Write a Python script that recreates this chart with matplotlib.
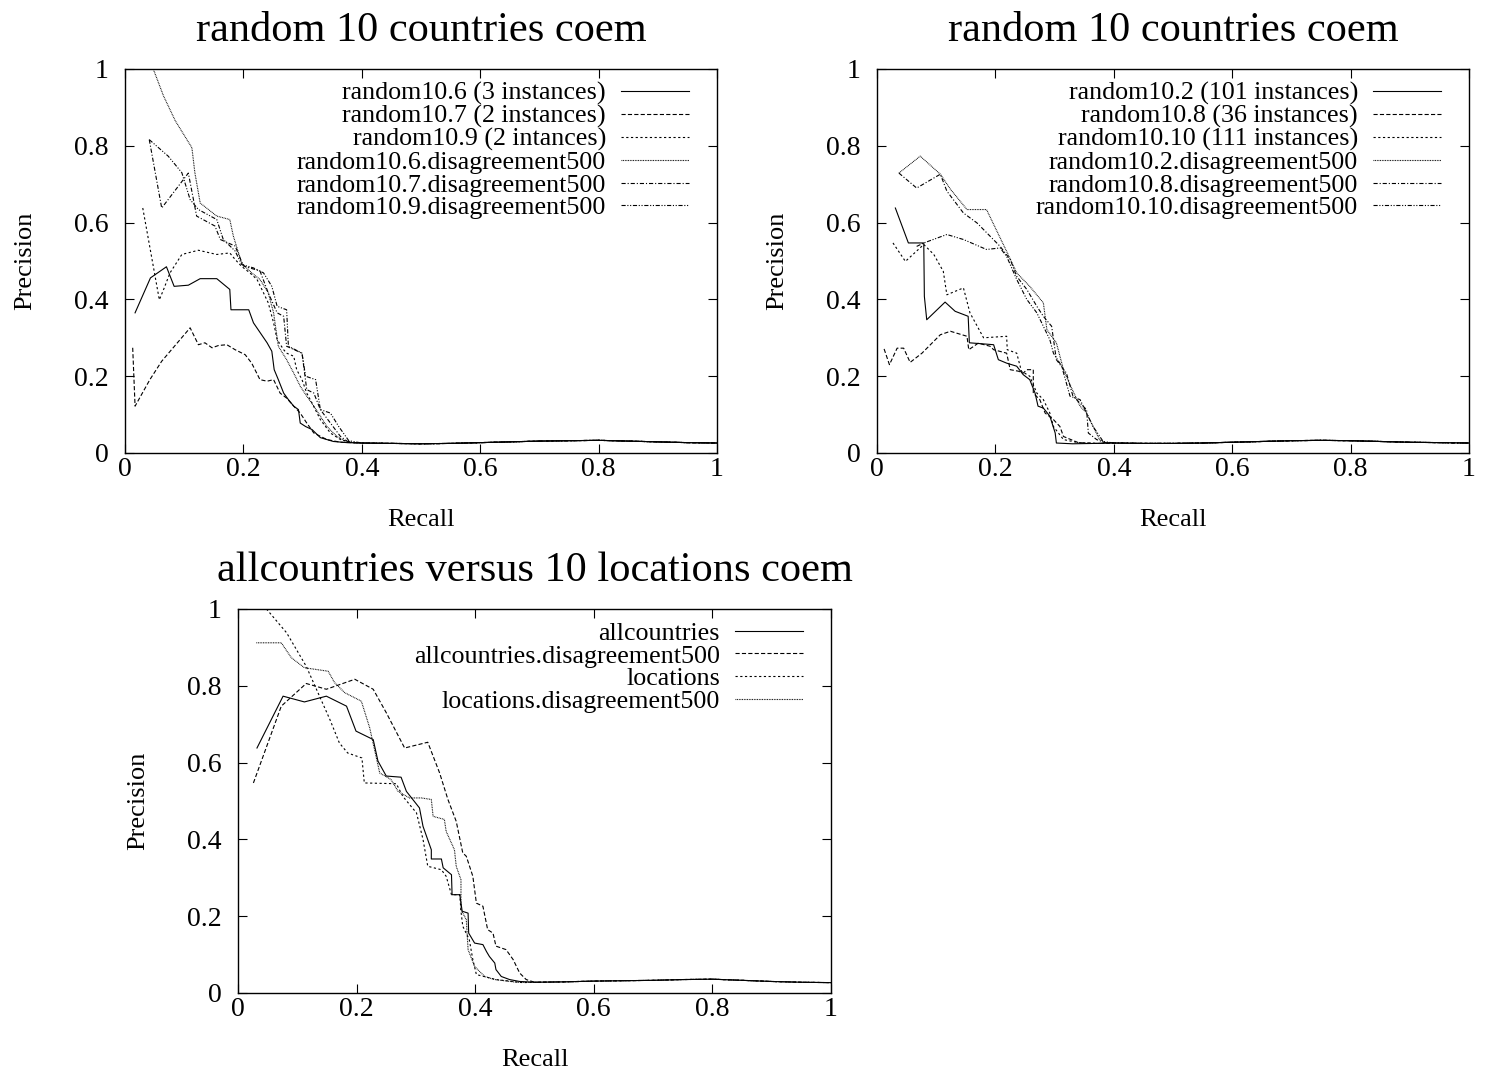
import matplotlib
matplotlib.use("Agg")
import matplotlib.pyplot as plt
import numpy as np

plt.rcParams['font.family'] = ['Liberation Serif', 'DejaVu Serif']
plt.rcParams['lines.scale_dashes'] = False

# ---------------- data: panel 1 ----------------
p1_title = "random 10 countries coem"
p1_labels = ["random10.6 (3 instances)", "random10.7 (2 instances)", "random10.9 (2 intances)",
             "random10.6.disagreement500", "random10.7.disagreement500", "random10.9.disagreement500"]
p1_tail_x = [0.40, 0.45, 0.50, 0.55, 0.60, 0.65, 0.70, 0.75, 0.80, 0.85, 0.90, 0.95, 1.00]
p1_tail_y = [0.026, 0.025, 0.024, 0.025, 0.027, 0.029, 0.031, 0.032, 0.033, 0.031, 0.029, 0.027, 0.026]

p1_s1_x = [0.017, 0.043, 0.070, 0.083, 0.107, 0.127, 0.155, 0.177, 0.179, 0.209, 0.217, 0.240, 0.248, 0.252,
           0.259, 0.268, 0.276, 0.285, 0.293, 0.296, 0.305, 0.316, 0.330, 0.352, 0.375]
p1_s1_y = [0.365, 0.456, 0.485, 0.434, 0.437, 0.454, 0.454, 0.426, 0.373, 0.373, 0.339, 0.287, 0.265, 0.217,
           0.191, 0.156, 0.139, 0.122, 0.113, 0.078, 0.069, 0.061, 0.040, 0.030, 0.027]
p1_s2_x = [0.013, 0.017, 0.042, 0.062, 0.110, 0.124, 0.135, 0.147, 0.158, 0.172, 0.186, 0.203, 0.214, 0.228,
           0.240, 0.251, 0.262, 0.273, 0.285, 0.296, 0.307, 0.319, 0.341, 0.364]
p1_s2_y = [0.274, 0.122, 0.191, 0.239, 0.326, 0.282, 0.287, 0.274, 0.280, 0.282, 0.269, 0.256, 0.234, 0.191,
           0.187, 0.191, 0.156, 0.143, 0.122, 0.104, 0.078, 0.052, 0.035, 0.028]
p1_s3_x = [0.030, 0.058, 0.065, 0.076, 0.096, 0.124, 0.155, 0.177, 0.186, 0.197, 0.211, 0.223, 0.234, 0.242,
           0.251, 0.257, 0.268, 0.273, 0.285, 0.290, 0.299, 0.307, 0.316, 0.330, 0.347, 0.364, 0.386]
p1_s3_y = [0.638, 0.399, 0.425, 0.469, 0.517, 0.528, 0.517, 0.521, 0.504, 0.486, 0.469, 0.452, 0.417, 0.391,
           0.339, 0.295, 0.269, 0.260, 0.252, 0.217, 0.191, 0.156, 0.130, 0.087, 0.052, 0.035, 0.027]
p1_s4_x = [0.048, 0.065, 0.085, 0.113, 0.118, 0.127, 0.155, 0.177, 0.183, 0.197, 0.214, 0.228, 0.242, 0.251,
           0.259, 0.273, 0.285, 0.296, 0.307, 0.319, 0.330, 0.341, 0.358, 0.375]
p1_s4_y = [0.999, 0.930, 0.865, 0.795, 0.730, 0.651, 0.617, 0.608, 0.565, 0.495, 0.469, 0.452, 0.417, 0.365,
           0.278, 0.243, 0.208, 0.174, 0.148, 0.122, 0.096, 0.069, 0.043, 0.028]
p1_s5_x = [0.041, 0.062, 0.107, 0.121, 0.152, 0.161, 0.186, 0.200, 0.228, 0.242, 0.257, 0.268, 0.273, 0.299,
           0.307, 0.319, 0.330, 0.347, 0.364, 0.378]
p1_s5_y = [0.816, 0.638, 0.729, 0.617, 0.591, 0.556, 0.539, 0.487, 0.474, 0.417, 0.365, 0.356, 0.278, 0.260,
           0.165, 0.156, 0.113, 0.078, 0.043, 0.028]
p1_s6_x = [0.041, 0.073, 0.096, 0.110, 0.124, 0.155, 0.166, 0.186, 0.197, 0.217, 0.234, 0.248, 0.257, 0.273,
           0.276, 0.299, 0.305, 0.322, 0.330, 0.347, 0.361, 0.378]
p1_s6_y = [0.816, 0.773, 0.730, 0.660, 0.634, 0.608, 0.556, 0.526, 0.491, 0.482, 0.469, 0.434, 0.382, 0.373,
           0.278, 0.260, 0.200, 0.191, 0.113, 0.104, 0.069, 0.032]

# ---------------- data: panel 2 ----------------
p2_title = "random 10 countries coem"
p2_labels = ["random10.2 (101 instances)", "random10.8 (36 instances)", "random10.10 (111 instances)",
             "random10.2.disagreement500", "random10.8.disagreement500", "random10.10.disagreement500"]
p2_tail_x = [0.40, 0.45, 0.50, 0.55, 0.60, 0.65, 0.70, 0.75, 0.80, 0.85, 0.90, 0.95, 1.00]
p2_tail_y = [0.026, 0.025, 0.025, 0.026, 0.028, 0.030, 0.032, 0.033, 0.032, 0.030, 0.028, 0.027, 0.026]

p2_s1_x = [0.031, 0.053, 0.079, 0.080, 0.084, 0.115, 0.132, 0.154, 0.156, 0.197, 0.205, 0.219, 0.236, 0.247,
           0.258, 0.267, 0.272, 0.281, 0.292, 0.301, 0.303, 0.330, 0.370]
p2_s1_y = [0.638, 0.547, 0.547, 0.408, 0.347, 0.393, 0.369, 0.356, 0.287, 0.282, 0.243, 0.234, 0.226, 0.204,
           0.191, 0.156, 0.122, 0.117, 0.096, 0.052, 0.026, 0.024, 0.025]
p2_s2_x = [0.012, 0.021, 0.034, 0.045, 0.056, 0.076, 0.107, 0.124, 0.152, 0.155, 0.171, 0.191, 0.197, 0.219,
           0.225, 0.239, 0.247, 0.253, 0.264, 0.264, 0.275, 0.284, 0.298, 0.309, 0.315, 0.340, 0.370]
p2_s2_y = [0.271, 0.230, 0.273, 0.273, 0.236, 0.260, 0.308, 0.317, 0.304, 0.269, 0.286, 0.278, 0.269, 0.260,
           0.217, 0.213, 0.208, 0.217, 0.217, 0.156, 0.139, 0.104, 0.087, 0.069, 0.043, 0.027, 0.025]
p2_s3_x = [0.027, 0.048, 0.079, 0.096, 0.112, 0.118, 0.146, 0.157, 0.180, 0.219, 0.220, 0.236, 0.244, 0.258,
           0.270, 0.281, 0.292, 0.298, 0.315, 0.340, 0.370]
p2_s3_y = [0.547, 0.499, 0.543, 0.517, 0.473, 0.412, 0.430, 0.365, 0.300, 0.304, 0.269, 0.260, 0.213, 0.200,
           0.156, 0.139, 0.104, 0.069, 0.035, 0.027, 0.025]
p2_s4_x = [0.037, 0.073, 0.107, 0.124, 0.152, 0.185, 0.219, 0.236, 0.258, 0.281, 0.287, 0.303, 0.315, 0.326,
           0.343, 0.354, 0.365, 0.376, 0.385]
p2_s4_y = [0.729, 0.773, 0.726, 0.687, 0.634, 0.634, 0.525, 0.469, 0.434, 0.391, 0.321, 0.287, 0.217, 0.178,
           0.122, 0.104, 0.069, 0.035, 0.027]
p2_s5_x = [0.037, 0.067, 0.107, 0.118, 0.146, 0.169, 0.208, 0.225, 0.236, 0.253, 0.270, 0.281, 0.295, 0.303,
           0.320, 0.331, 0.354, 0.357, 0.371, 0.385]
p2_s5_y = [0.729, 0.690, 0.726, 0.682, 0.625, 0.599, 0.538, 0.504, 0.460, 0.426, 0.382, 0.356, 0.330, 0.243,
           0.208, 0.148, 0.113, 0.052, 0.035, 0.027]
p2_s6_x = [0.067, 0.079, 0.118, 0.146, 0.185, 0.208, 0.219, 0.236, 0.253, 0.270, 0.281, 0.292, 0.298, 0.312,
           0.326, 0.343, 0.354, 0.365, 0.382]
p2_s6_y = [0.538, 0.547, 0.569, 0.556, 0.530, 0.534, 0.512, 0.452, 0.400, 0.365, 0.330, 0.295, 0.260, 0.226,
           0.148, 0.139, 0.104, 0.069, 0.030]

# ---------------- data: panel 3 ----------------
p3_title = "allcountries versus 10 locations coem"
p3_labels = ["allcountries", "allcountries.disagreement500", "locations", "locations.disagreement500"]
p3_tail_x = [0.50, 0.55, 0.60, 0.65, 0.70, 0.75, 0.80, 0.85, 0.90, 0.95, 1.00]
p3_tail_y = [0.028, 0.029, 0.031, 0.032, 0.033, 0.035, 0.036, 0.033, 0.030, 0.028, 0.027]

p3_s1_x = [0.032, 0.076, 0.112, 0.149, 0.183, 0.199, 0.228, 0.236, 0.250, 0.275, 0.284, 0.306, 0.312, 0.326,
           0.326, 0.343, 0.346, 0.360, 0.361, 0.374, 0.378, 0.388, 0.389, 0.399, 0.413, 0.419, 0.424, 0.433,
           0.435, 0.444, 0.458, 0.475]
p3_s1_y = [0.638, 0.773, 0.758, 0.773, 0.747, 0.682, 0.660, 0.604, 0.565, 0.562, 0.525, 0.482, 0.434, 0.373,
           0.349, 0.349, 0.326, 0.308, 0.256, 0.256, 0.213, 0.208, 0.156, 0.130, 0.126, 0.108, 0.095, 0.078,
           0.061, 0.043, 0.035, 0.030]
p3_s2_x = [0.026, 0.073, 0.115, 0.149, 0.197, 0.228, 0.250, 0.281, 0.320, 0.340, 0.354, 0.368, 0.379, 0.385,
           0.396, 0.402, 0.413, 0.421, 0.430, 0.435, 0.452, 0.464, 0.475, 0.486]
p3_s2_y = [0.547, 0.747, 0.806, 0.791, 0.817, 0.791, 0.730, 0.638, 0.653, 0.573, 0.504, 0.447, 0.365, 0.356,
           0.304, 0.234, 0.226, 0.165, 0.156, 0.122, 0.113, 0.087, 0.052, 0.035]
p3_s3_x = [0.048, 0.082, 0.115, 0.155, 0.171, 0.185, 0.209, 0.213, 0.267, 0.278, 0.301, 0.312, 0.320, 0.343,
           0.351, 0.360, 0.374, 0.376, 0.379, 0.390, 0.396, 0.402, 0.435, 0.480]
p3_s3_y = [1.000, 0.938, 0.851, 0.712, 0.651, 0.625, 0.612, 0.547, 0.545, 0.512, 0.469, 0.400, 0.330, 0.321,
           0.304, 0.256, 0.256, 0.213, 0.174, 0.139, 0.087, 0.048, 0.035, 0.027]
p3_s4_x = [0.031, 0.073, 0.090, 0.112, 0.152, 0.163, 0.180, 0.208, 0.222, 0.239, 0.258, 0.270, 0.289, 0.309,
           0.326, 0.329, 0.348, 0.351, 0.365, 0.368, 0.376, 0.376, 0.385, 0.388, 0.399, 0.416, 0.433, 0.470]
p3_s4_y = [0.912, 0.912, 0.873, 0.847, 0.838, 0.808, 0.782, 0.760, 0.691, 0.573, 0.556, 0.525, 0.508, 0.508,
           0.504, 0.460, 0.452, 0.421, 0.373, 0.330, 0.295, 0.217, 0.191, 0.113, 0.069, 0.043, 0.035, 0.028]

x_ticks = [0, 0.2, 0.4, 0.6, 0.8, 1]
y_ticks = [0, 0.2, 0.4, 0.6, 0.8, 1]
tick_labels = ["0", "0.2", "0.4", "0.6", "0.8", "1"]

# ---------------- styles ----------------
styles = [
    dict(linestyle='-'),
    dict(linestyle=(0, (3.0, 1.6))),
    dict(linestyle=(0, (1.6, 1.8))),
    dict(linestyle=(0, (0.6, 0.6))),
    dict(linestyle=(0, (3.0, 1.4, 0.8, 1.4))),
    dict(linestyle=(0, (3.0, 1.2, 0.8, 1.2, 0.8, 1.2))),
]

W, H = 1492, 1070
fig = plt.figure(figsize=(W / 100, H / 100), dpi=100)

def axrect(left, top, right, bottom):
    return [left / W, 1 - bottom / H, (right - left) / W, (bottom - top) / H]

TICK_FS = 20
LEG_FS = 18.7
LABEL_FS = 19
TITLE_FS = 30.5


def make_panel(rect, title, labels, xs, ys, tail_x, tail_y):
    ax = fig.add_axes(rect)
    for i, (x, y) in enumerate(zip(xs, ys)):
        xx = list(x) + [t for t in tail_x if t > x[-1]]
        yy = list(y) + [ty for t, ty in zip(tail_x, tail_y) if t > x[-1]]
        ax.plot(xx, yy, color='black', lw=0.8, label=labels[i], **styles[i])
    ax.set_xlim(0, 1)
    ax.set_ylim(0, 1)
    ax.set_xticks(x_ticks)
    ax.set_xticklabels(tick_labels)
    ax.set_yticks(y_ticks)
    ax.set_yticklabels(tick_labels)
    ax.tick_params(direction='in', length=6.5, width=0.8, top=True, right=True,
                   labelsize=TICK_FS)
    ax.tick_params(axis='x', pad=3)
    ax.tick_params(axis='y', pad=12)
    for s in ax.spines.values():
        s.set_linewidth(1.0)
    ax.set_xlabel("Recall", fontsize=LABEL_FS, labelpad=19)
    ax.set_ylabel("Precision", fontsize=LABEL_FS, labelpad=27)
    ax.set_title(title, fontsize=TITLE_FS, pad=20)
    ax.legend(loc='upper right', bbox_to_anchor=(0.953, 0.967), markerfirst=False, frameon=False,
              fontsize=LEG_FS, handlelength=2.62, handletextpad=0.58, labelspacing=-0.02,
              borderaxespad=0, borderpad=0)
    return ax


make_panel(axrect(125, 69, 717, 453), p1_title, p1_labels,
           [p1_s1_x, p1_s2_x, p1_s3_x, p1_s4_x, p1_s5_x, p1_s6_x],
           [p1_s1_y, p1_s2_y, p1_s3_y, p1_s4_y, p1_s5_y, p1_s6_y], p1_tail_x, p1_tail_y)
make_panel(axrect(877, 69, 1469, 453), p2_title, p2_labels,
           [p2_s1_x, p2_s2_x, p2_s3_x, p2_s4_x, p2_s5_x, p2_s6_x],
           [p2_s1_y, p2_s2_y, p2_s3_y, p2_s4_y, p2_s5_y, p2_s6_y], p2_tail_x, p2_tail_y)
make_panel(axrect(238, 609, 831, 993), p3_title, p3_labels,
           [p3_s1_x, p3_s2_x, p3_s3_x, p3_s4_x],
           [p3_s1_y, p3_s2_y, p3_s3_y, p3_s4_y], p3_tail_x, p3_tail_y)

fig.savefig("out.png", dpi=100)
